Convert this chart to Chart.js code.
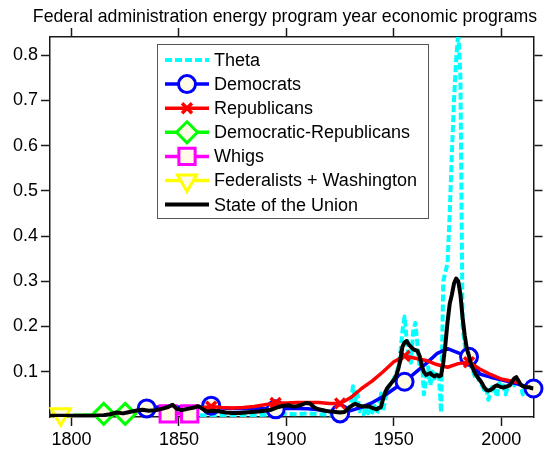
<!DOCTYPE html>
<html><head><meta charset="utf-8">
<script src="https://cdn.jsdelivr.net/npm/chart.js@4.4.1/dist/chart.umd.min.js"></script>
<style>html,body{margin:0;padding:0;background:#fff;}canvas{display:block;}</style>
</head><body>
<canvas id="c" width="548" height="455"></canvas>
<script>
// ---------------- data ----------------
const titleText = "Federal administration energy program year economic programs";
const xTickValues = [1800, 1850, 1900, 1950, 2000];
const yTickValues = [0.1, 0.2, 0.3, 0.4, 0.5, 0.6, 0.7, 0.8];
const yTickLabels = ["0.1", "0.2", "0.3", "0.4", "0.5", "0.6", "0.7", "0.8"];
const seriesNames = ["Theta", "Democrats", "Republicans", "Democratic-Republicans", "Whigs", "Federalists + Washington", "State of the Union"];

const thetaYears = [1855,1860,1865,1870,1875,1880,1885,1890,1895,1900,1905,1910,1915,1920,1925,1926,1927,1928,1929,1930,1931,1932,1933,1934,1935,1936,1937,1938,1939,1940,1941,1942,1943,1944,1945,1946,1947,1948,1949,1950,1951,1952,1953,1954,1955,1956,1957,1958,1959,1960,1961,1962,1963,1964,1965,1966,1967,1968,1969,1970,1971,1972,1973,1974,1975,1976,1977,1978,1979,1980,1981,1982,1983,1984,1985,1986,1987,1988,1989,1990,1991,1992,1993,1994,1995,1996,1997,1998,1999,2000,2001,2002,2003,2004,2005,2006,2007,2008,2009,2010,2011,2012,2013,2014,2015];
const thetaValues = [0.003,0.004,0.003,0.004,0.003,0.004,0.004,0.005,0.006,0.007,0.006,0.008,0.006,0.005,0.004,0.006,0.010,0.008,0.015,0.030,0.068,0.035,0.055,0.012,0.020,0.006,0.022,0.008,0.018,0.010,0.025,0.008,0.020,0.052,0.012,0.040,0.060,0.070,0.075,0.085,0.095,0.110,0.140,0.190,0.222,0.170,0.130,0.120,0.190,0.208,0.160,0.110,0.130,0.050,0.085,0.110,0.070,0.100,0.085,0.100,0.090,0.010,0.300,0.320,0.340,0.450,0.580,0.700,0.790,0.850,0.750,0.200,0.160,0.130,0.125,0.110,0.100,0.085,0.090,0.075,0.070,0.060,0.065,0.038,0.055,0.070,0.060,0.045,0.075,0.065,0.070,0.050,0.065,0.075,0.080,0.070,0.085,0.075,0.070,0.050,0.065,0.070,0.055,0.060,0.060];

const demYears = [1835,1840,1845,1850,1855,1860,1865,1870,1875,1880,1885,1890,1895,1900,1905,1910,1915,1920,1925,1930,1935,1940,1945,1950,1955,1960,1965,1970,1975,1980,1985,1990,1995,2000,2005,2010,2015];
const demValues = [0.019,0.022,0.023,0.022,0.022,0.022,0.025,0.020,0.019,0.018,0.018,0.018,0.017,0.019,0.019,0.018,0.016,0.012,0.008,0.014,0.022,0.032,0.045,0.062,0.078,0.098,0.118,0.140,0.151,0.142,0.133,0.095,0.088,0.082,0.076,0.070,0.063];
const demMarkerYears = [1835,1865,1895,1925,1955,1985,2015];

const repYears = [1860,1865,1870,1875,1880,1885,1890,1895,1900,1905,1910,1915,1920,1925,1930,1935,1940,1945,1950,1955,1960,1965,1970,1975,1980,1985,1990,1995,2000,2005,2008];
const repValues = [0.020,0.023,0.021,0.020,0.021,0.023,0.027,0.031,0.031,0.032,0.032,0.032,0.030,0.030,0.043,0.063,0.080,0.100,0.122,0.135,0.130,0.125,0.116,0.110,0.118,0.121,0.106,0.094,0.084,0.079,0.076];
const repMarkerYears = [1865,1895,1925,1955,1985];

const drYears = [1801,1805,1810,1815,1820,1825,1829];
const drValues = [0.004,0.004,0.005,0.007,0.006,0.007,0.006];
const drMarkerYears = [1815,1825];

const whigYears = [1841,1845,1850,1855];
const whigValues = [0.008,0.007,0.007,0.007];
const whigMarkerYears = [1845,1855];

const fedYears = [1790,1795,1800];
const fedValues = [0.003,0.006,0.003];
const fedMarkerYears = [1795];

const sotuYears = [1790,1795,1800,1805,1810,1815,1818,1821,1824,1827,1830,1833,1836,1839,1842,1845,1847,1849,1851,1854,1857,1859,1861,1863,1866,1869,1872,1875,1878,1881,1884,1887,1890,1893,1896,1899,1901,1903,1905,1907,1909,1911,1913,1915,1917,1919,1921,1923,1925,1927,1929,1931,1932,1934,1936,1938,1940,1942,1943,1944,1945,1946,1947,1948,1949,1950,1951,1952,1953,1954,1955,1956,1957,1958,1959,1960,1961,1962,1963,1964,1965,1966,1967,1968,1969,1970,1971,1972,1973,1974,1975,1976,1977,1978,1979,1980,1981,1982,1983,1984,1985,1986,1987,1988,1989,1990,1991,1992,1993,1994,1995,1996,1997,1998,1999,2000,2001,2002,2003,2004,2005,2006,2007,2008,2009,2010,2011,2012,2013,2014,2015];
const sotuValues = [0.003,0.003,0.003,0.003,0.003,0.004,0.006,0.010,0.008,0.011,0.014,0.016,0.014,0.015,0.018,0.022,0.027,0.018,0.015,0.018,0.021,0.024,0.018,0.012,0.014,0.012,0.010,0.009,0.009,0.010,0.011,0.012,0.014,0.016,0.022,0.025,0.026,0.023,0.024,0.027,0.031,0.030,0.021,0.017,0.015,0.013,0.012,0.011,0.010,0.011,0.020,0.027,0.029,0.025,0.023,0.024,0.020,0.017,0.020,0.022,0.040,0.055,0.064,0.070,0.076,0.082,0.090,0.105,0.125,0.155,0.165,0.168,0.160,0.155,0.150,0.148,0.146,0.135,0.112,0.100,0.093,0.095,0.097,0.092,0.090,0.093,0.090,0.092,0.120,0.160,0.210,0.250,0.270,0.295,0.306,0.300,0.270,0.220,0.180,0.150,0.135,0.115,0.105,0.095,0.088,0.082,0.075,0.066,0.060,0.058,0.060,0.063,0.068,0.070,0.068,0.066,0.065,0.067,0.068,0.070,0.078,0.085,0.088,0.080,0.072,0.068,0.067,0.066,0.066,0.064,0.063];

// ---------------- build ----------------
const FONT = '"Liberation Sans", Arial, Helvetica, sans-serif';
const AXIS = '#1a1a1a';
const CREAM = '#FFFBE6';
const pts = (xs, ys) => xs.map((x, i) => ({x: x, y: ys[i]}));
const radii = (xs, marks, r) => xs.map(x => marks.includes(x) ? r : 0);

const datasets = [
  {label: seriesNames[0], data: pts(thetaYears, thetaValues), borderColor: '#00FFFF', borderWidth: 4, borderDash: [7, 3], pointRadius: 0, order: 7},
  {label: seriesNames[1], data: pts(demYears, demValues), borderColor: '#0000FF', borderWidth: 3.5, pointStyle: 'circle', pointRadius: radii(demYears, demMarkerYears, 8.5), pointBorderWidth: 3, pointBorderColor: '#0000FF', pointBackgroundColor: CREAM, mk: {style: 'circle', r: 8.5, bw: 3, rot: 0}, clip: false, order: 6},
  {label: seriesNames[2], data: pts(repYears, repValues), borderColor: '#FF0000', borderWidth: 3.5, pointStyle: 'crossRot', pointRadius: radii(repYears, repMarkerYears, 7), pointBorderWidth: 3.5, pointBorderColor: '#FF0000', pointBackgroundColor: '#FF0000', mk: {style: 'crossRot', r: 7, bw: 3.5, rot: 0}, clip: false, order: 5},
  {label: seriesNames[3], data: pts(drYears, drValues), borderColor: '#00FF00', borderWidth: 3.5, pointStyle: 'rectRot', pointRadius: radii(drYears, drMarkerYears, 10.5), pointBorderWidth: 3, pointBorderColor: '#00FF00', pointBackgroundColor: CREAM, mk: {style: 'rectRot', r: 10.5, bw: 3, rot: 0}, clip: false, order: 4},
  {label: seriesNames[4], data: pts(whigYears, whigValues), borderColor: '#FF00FF', borderWidth: 3.5, pointStyle: 'rect', pointRadius: radii(whigYears, whigMarkerYears, 11.5), pointBorderWidth: 3, pointBorderColor: '#FF00FF', pointBackgroundColor: CREAM, mk: {style: 'rect', r: 11.5, bw: 3, rot: 0}, clip: false, order: 3},
  {label: seriesNames[5], data: pts(fedYears, fedValues), borderColor: '#FFFF00', borderWidth: 3.5, pointStyle: 'triangle', pointRotation: 180, pointRadius: radii(fedYears, fedMarkerYears, 11), pointBorderWidth: 3, pointBorderColor: '#FFFF00', pointBackgroundColor: CREAM, mk: {style: 'triangle', r: 11, bw: 3, rot: 180}, clip: false, order: 2},
  {label: seriesNames[6], data: pts(sotuYears, sotuValues), borderColor: '#000000', borderWidth: 4, pointRadius: 0, order: 1}
];
datasets.forEach(d => { d.tension = 0; d.fill = false; d.borderJoinStyle = 'round'; d.pointHoverRadius = 0; });

const titlePlugin = {
  id: 'plotTitle',
  afterDraw(chart) {
    const ctx = chart.ctx;
    ctx.save();
    ctx.fillStyle = '#000';
    ctx.font = '17.7px ' + FONT;
    ctx.textAlign = 'center';
    ctx.textBaseline = 'middle';
    ctx.fillText(titleText, 285, 17.5);
    ctx.restore();
  }
};

const legendPlugin = {
  id: 'boxLegend',
  afterDraw(chart) {
    const ctx = chart.ctx;
    const x0 = 157, y0 = 44, x1 = 428, y1 = 218, rowH = 24.1, firstY = 60;
    ctx.save();
    ctx.fillStyle = '#fff';
    ctx.fillRect(x0, y0, x1 - x0, y1 - y0);
    ctx.strokeStyle = '#555';
    ctx.lineWidth = 1;
    ctx.strokeRect(x0 + 0.5, y0 + 0.5, x1 - x0, y1 - y0);
    chart.data.datasets.forEach((ds, i) => {
      const y = firstY + i * rowH;
      ctx.beginPath();
      ctx.setLineDash(ds.borderDash || []);
      ctx.lineWidth = ds.borderWidth;
      ctx.strokeStyle = ds.borderColor;
      ctx.moveTo(165, y); ctx.lineTo(209, y);
      ctx.stroke();
      ctx.setLineDash([]);
      if (ds.mk) {
        ctx.fillStyle = ds.pointBackgroundColor;
        ctx.strokeStyle = ds.pointBorderColor;
        ctx.lineWidth = ds.mk.bw;
        Chart.helpers.drawPoint(ctx, {pointStyle: ds.mk.style, radius: ds.mk.r, rotation: ds.mk.rot, borderWidth: ds.mk.bw}, 187, y);
      }
      ctx.fillStyle = '#000';
      ctx.font = '18px ' + FONT;
      ctx.textBaseline = 'middle';
      ctx.textAlign = 'left';
      ctx.fillText(ds.label, 214, y + 1);
    });
    ctx.restore();
  }
};

const gridOpts = {drawOnChartArea: false, drawTicks: true, tickLength: 9, tickColor: AXIS, tickWidth: 1.5};
const borderOpts = {display: true, color: AXIS, width: 1.5};

new Chart(document.getElementById('c'), {
  type: 'line',
  data: {datasets: datasets},
  plugins: [titlePlugin, legendPlugin],
  options: {
    responsive: false,
    animation: false,
    devicePixelRatio: 1,
    layout: {padding: {top: 28.6, left: 0, right: 0, bottom: 0}},
    plugins: {
      legend: {display: false},
      tooltip: {enabled: false},
      title: {display: false}
    },
    scales: {
      x: {type: 'linear', position: 'bottom', min: 1790, max: 2015,
          afterBuildTicks: s => { s.ticks = xTickValues.map(v => ({value: v})); },
          afterFit: s => { s.height = 38; },
          ticks: {color: '#000', font: {family: FONT, size: 18}, padding: 3, maxRotation: 0, callback: v => String(v)},
          grid: gridOpts, border: borderOpts},
      x2: {type: 'linear', position: 'top', min: 1790, max: 2015,
          afterBuildTicks: s => { s.ticks = xTickValues.map(v => ({value: v})); },
          afterFit: s => { s.height = 8.4; },
          ticks: {display: false},
          grid: gridOpts, border: borderOpts},
      y: {type: 'linear', position: 'left', min: 0, max: 0.84,
          afterBuildTicks: s => { s.ticks = yTickValues.map(v => ({value: v})); },
          afterFit: s => { s.width = 50; },
          ticks: {color: '#000', font: {family: FONT, size: 18}, padding: 3, callback: (v, i) => yTickLabels[i]},
          grid: gridOpts, border: borderOpts},
      y2: {type: 'linear', position: 'right', min: 0, max: 0.84,
          afterBuildTicks: s => { s.ticks = yTickValues.map(v => ({value: v})); },
          afterFit: s => { s.width = 13; },
          ticks: {display: false},
          grid: gridOpts, border: borderOpts}
    }
  }
});
</script>
</body></html>
